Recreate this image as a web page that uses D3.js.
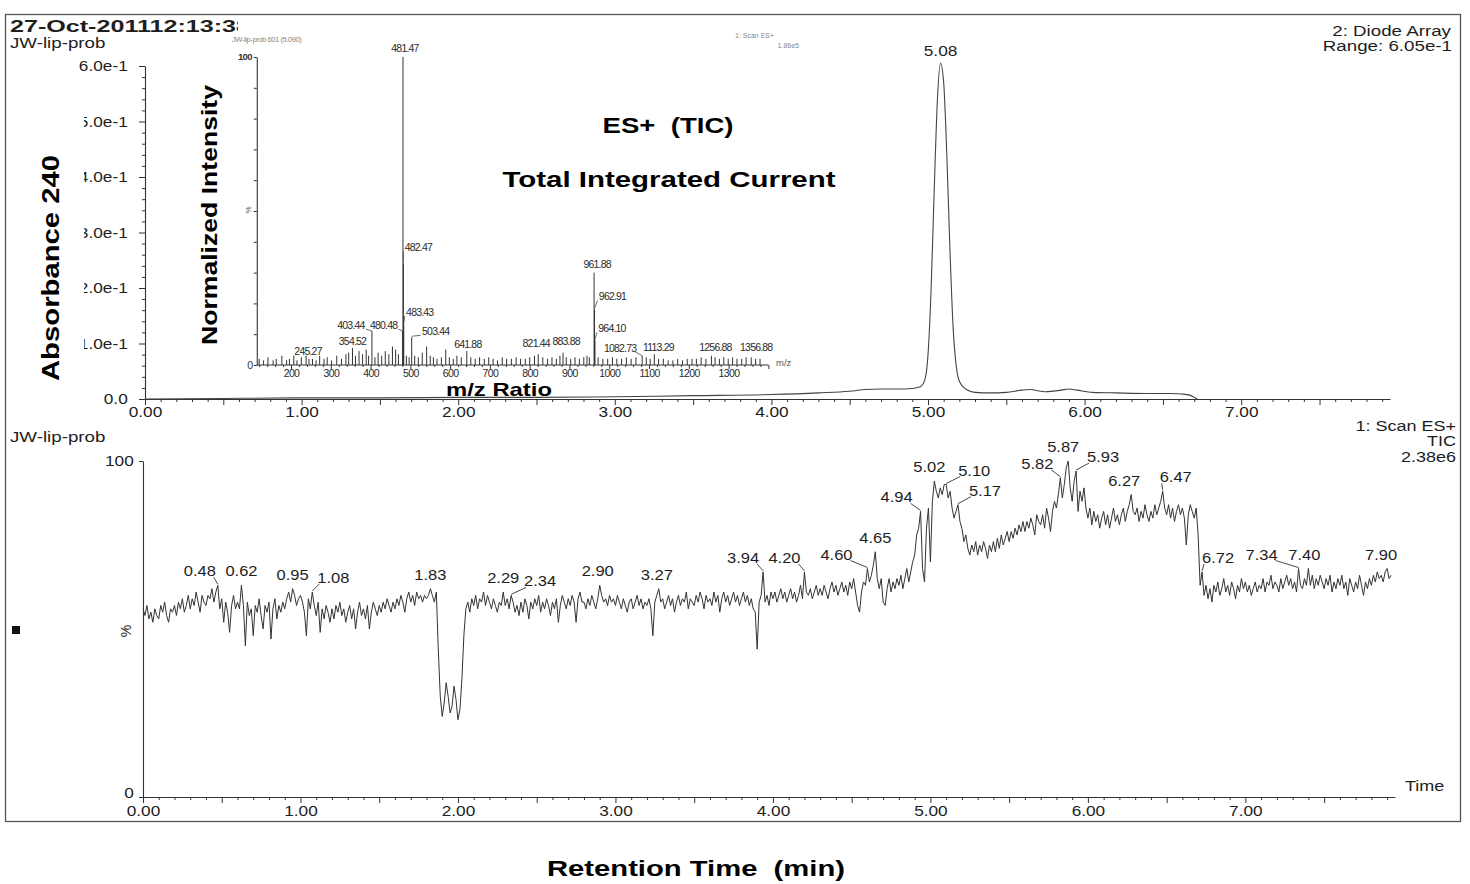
<!DOCTYPE html>
<html><head><meta charset="utf-8">
<script src="https://cdn.jsdelivr.net/npm/d3@7"></script>
<style>body{margin:0;background:#fff}svg{display:block}</style>
</head><body>
<svg id="c" width="1470" height="884"></svg>
<script>
// ================= DATA =================
// Diode array (Absorbance 240) trace: retention time (min) and absorbance
const uvTime = [0, 0.5, 1.0, 1.5, 2.0, 2.5, 3.0, 3.5, 4.0, 4.3, 4.5, 4.6, 4.7, 4.8, 4.9, 4.95, 4.98, 5.00, 5.02, 5.04, 5.06, 5.08, 5.10, 5.12, 5.14, 5.16, 5.18, 5.20, 5.24, 5.3, 5.4, 5.5, 5.6, 5.65, 5.75, 5.85, 5.9, 5.95, 6.05, 6.2, 6.4, 6.55, 6.62, 6.67, 6.70, 6.72];
const uvAbs  = [0.000, 0.001, 0.002, 0.002, 0.003, 0.003, 0.004, 0.006, 0.008, 0.011, 0.014, 0.017, 0.018, 0.018, 0.019, 0.022, 0.035, 0.080, 0.200, 0.380, 0.540, 0.605, 0.570, 0.440, 0.270, 0.130, 0.060, 0.032, 0.018, 0.012, 0.011, 0.012, 0.016, 0.017, 0.013, 0.016, 0.018, 0.016, 0.012, 0.011, 0.010, 0.010, 0.009, 0.007, 0.003, 0.000];
const uvPeakLabels = [5.08];

// TIC (ES+) trace, % of 2.38e6, one scan every 0.0125 min starting at 0
const ticStep = 0.0125;
const ticValues = [
56,54,57,53,55,52,56,54, 53,57,55,58,54,52,56,55, 57,54,58,56,59,55,57,60, 56,59,57,61,58,55,60,58,
57,60,59,62,58,61,63,56, 59,52,58,55,49,57,60,56, 58,56,63,57,45,58,54,56, 48,57,55,59,54,50,57,55,
58,47,56,59,53,57,55,58, 56,59,61,58,62,60,57,59, 60,58,55,48,59,56,61,57, 54,58,49,56,53,57,55,52,
56,53,57,55,58,54,56,52, 55,57,53,56,50,55,58,54, 56,53,57,50,55,58,56,54, 57,55,58,56,59,57,55,58,
56,59,57,60,58,55,59,61, 58,60,57,61,59,60,58,60, 59,60,62,60,58,61,44,30, 24,28,34,30,25,27,33,29,
23,26,35,48,56,58,55,59, 57,60,56,59,58,61,57,60, 58,56,59,57,55,58,57,61, 57,59,56,60,58,55,57,54,
58,55,59,57,53,58,56,59, 57,60,55,58,56,59,57,54, 58,56,59,52,57,60,58,56, 59,57,60,58,52,59,61,58,
58,56,59,57,60,58,56,59, 63,60,58,59,57,60,58,59, 57,60,58,56,59,57,55,58, 59,56,58,60,57,59,56,58,
57,59,56,48,58,60,62,58, 59,56,58,60,57,59,55,58, 60,57,59,58,61,56,59,58, 57,60,58,61,59,56,60,58,
59,57,61,58,60,55,59,61, 58,60,57,59,61,58,60,57, 59,61,58,60,57,59,56,55, 44,58,60,67,58,60,57,61,
59,61,58,60,62,59,61,58, 60,62,59,61,58,60,63,59, 67,61,60,62,59,61,63,60, 62,60,63,61,59,62,64,61,
63,60,62,64,61,63,60,64, 62,65,61,57,55,61,64,63, 68,64,66,69,73,65,62,65, 58,57,62,65,61,64,62,65,
63,66,62,65,68,64,67,70, 72,78,80,85,68,64,80,86, 70,88,94,91,89,92,90,93, 93,89,91,86,83,85,87,82,
80,76,78,74,72,75,73,76, 72,75,73,76,74,71,75,73, 76,73,77,74,78,75,77,79, 76,79,77,80,78,81,79,82,
79,82,80,83,81,78,84,82, 81,84,80,86,83,79,85,88, 86,90,95,89,93,98,100,92, 88,94,97,85,91,88,92,86,
83,86,81,85,82,84,80,83, 85,81,84,80,83,86,82,84, 81,84,86,82,85,87,90,85, 84,86,82,85,83,87,84,82,
85,83,87,84,86,88,91,86, 84,87,83,86,82,85,87,84, 86,83,75,84,87,85,83,86, 78,63,67,60,63,59,62,58,
63,61,64,60,62,65,61,63, 60,64,62,59,63,61,65,62, 64,61,63,60,62,64,61,63, 62,65,61,64,63,66,62,64,
63,61,65,62,64,66,63,65, 62,64,61,68,63,62,65,63, 68,63,66,62,65,63,66,64, 62,65,63,66,61,64,62,65,
63,66,62,64,60,65,63,61, 64,62,66,63,60,64,62,65, 63,66,64,67,65,66,64,67, 68,65,66
];
const ticPeakLabels = [0.48,0.62,0.95,1.08,1.83,2.29,2.34,2.90,3.27,3.94,4.20,4.60,4.65,4.94,5.02,5.10,5.17,5.82,5.87,5.93,6.27,6.47,6.72,7.34,7.40,7.90];

// Mass spectrum of scan 601 (5.090 min): [m/z, relative intensity %]
const msPeaks = [
[120,2],[131,1.5],[142,2.5],[155,1.5],[163,2],[177,3],[189,1.5],[196,2],[207,3],[215,1.5],[226,2.5],[238,3],
[245.27,2],[254,2],[263,1.5],[272,3],[283,2],[291,2.5],[302,1.5],[315,3],[327,2],[338,3.5],[345,4],
[354.52,5.5],[362,3],[371,4.5],[380,3.5],[389,5],[395,3],[403.44,11],[411,2.5],[419,4],[428,3],[437,4.5],
[446,3.5],[455,6],[463,5],[470,3.5],[480.48,11],[481.47,100],[482.47,33],[483.43,13],[490,3],[497,2.5],
[503.44,9],[511,3],[520,2.5],[530,4],[541,6],[550,3],[558,2.5],[567,2],[578,2.5],[589,5],[598,2.5],
[608,2],[617,3],[628,2.5],[641.88,4.5],[652,2.5],[663,2],[674,2.5],[686,2],[697,2.5],[708,2],[719,1.5],
[731,2.5],[742,2],[754,2],[766,2.5],[777,2],[789,2],[800,2.5],[812,3],[821.44,3.5],[833,2.5],[845,2],
[856,2.5],[867,2],[876,3],[883.88,4],[892,2.5],[903,2],[914,2.5],[925,2],[936,2.5],[944,3],[950,2.5],
[961.88,30],[962.91,18],[964.10,8],[972,2.5],[984,2],[996,2],[1008,2.5],[1019,2],[1031,2],[1043,2.5],
[1055,2],[1067,2.5],[1082.73,3],[1093,2.5],[1103,2],[1113.29,3.5],[1124,2],[1136,2],[1148,1.5],[1160,1.5],
[1172,2],[1184,1.5],[1196,2],[1208,2],[1219,2],[1231,2.5],[1243,2],[1256.88,3],[1266,2.5],[1277,2],
[1288,2.5],[1299,2],[1310,2.5],[1321,2],[1333,2],[1344,2.5],[1356.88,2.5],[1368,2],[1379,2]
];
const msPeakLabels = [245.27,354.52,403.44,480.48,481.47,482.47,483.43,503.44,641.88,821.44,883.88,961.88,962.91,964.10,1082.73,1113.29,1256.88,1356.88];

// Tick labels
const rtTicks = [0,1,2,3,4,5,6,7];
const absTicks = [0,0.1,0.2,0.3,0.4,0.5,0.6];
const absTickLabels = ["0.0","1.0e-1","2.0e-1","3.0e-1","4.0e-1","5.0e-1","6.0e-1"];
const mzTicks = [200,300,400,500,600,700,800,900,1000,1100,1200,1300];
const ticTicks = [0,100];

// ================= DRAWING =================
const svg = d3.select("#c");
const F = '"Liberation Sans", Arial, Helvetica, sans-serif';
const INK = "#1e1e1e";

function txt(g, x, y, s, o = {}) {
  const sx = o.sx ?? 1.2;
  const t = g.append("text")
    .attr("transform", `translate(${x},${y})` + (o.rot ? ` rotate(${o.rot})` : "") + (sx !== 1 ? ` scale(${sx},1)` : ""))
    .attr("font-family", F).attr("font-size", o.size ?? 15)
    .attr("font-weight", o.weight ?? "normal")
    .attr("text-anchor", o.anchor ?? "start")
    .attr("fill", o.fill ?? INK)
    .style("white-space", "pre")
    .text(s);
  if (o.len) t.attr("textLength", o.len).attr("lengthAdjust", "spacingAndGlyphs");
  if (o.ls != null) t.attr("letter-spacing", o.ls);
  return t;
}

// outer frame
svg.append("rect").attr("x", 5.5).attr("y", 14.5).attr("width", 1455).attr("height", 807)
  .attr("fill", "none").attr("stroke", "#555").attr("stroke-width", 1.3);

// header
svg.append("clipPath").attr("id", "hclip").append("rect").attr("x", 0).attr("y", 0).attr("width", 238).attr("height", 60);
txt(svg.append("g").attr("clip-path", "url(#hclip)"), 10, 32, "27-Oct-201112:13:38", {size: 17, weight: "bold", sx: 1, len: 240});
txt(svg, 10, 48, "JW-lip-prob", {size: 15, sx: 1.25});
txt(svg, 1451, 36, "2: Diode Array", {size: 15, anchor: "end", sx: 1.25});
txt(svg, 1452, 51, "Range: 6.05e-1", {size: 15, anchor: "end", sx: 1.25});

// ---------- top chart: diode array ----------
const xTop = d3.scaleLinear().domain([0, 7.95]).range([145, 1390]);
const yTop = d3.scaleLinear().domain([0, 0.6]).range([399, 66]);

function styleAxis(g, size) {
  g.attr("font-family", F).attr("font-size", size);
  g.selectAll("path.domain").attr("stroke", "#333").attr("stroke-width", 1.1);
  g.selectAll(".tick line").attr("stroke", "#333");
  g.selectAll(".tick text").attr("fill", INK);
}

const tenths = d3.range(0, 80).map(i => i / 10);
const gxTop = svg.append("g").attr("transform", `translate(0,${yTop(0)})`)
  .call(d3.axisBottom(xTop).tickValues(tenths).tickSize(3).tickSizeOuter(0).tickPadding(4)
    .tickFormat(d => rtTicks.includes(d) ? d.toFixed(2) : ""));
styleAxis(gxTop, 15);
gxTop.selectAll(".tick line").attr("y2", d => Math.abs(d * 2 - Math.round(d * 2)) < 1e-6 ? 6 : 3);
gxTop.selectAll(".tick text").attr("transform", "scale(1.15,1)");

const fiftieths = d3.range(0, 31).map(i => i / 50);
const gyTop = svg.append("g").attr("transform", `translate(${xTop(0)},0)`)
  .call(d3.axisLeft(yTop).tickValues(fiftieths).tickSize(3).tickSizeOuter(0).tickPadding(4)
    .tickFormat(d => { const k = absTicks.findIndex(v => Math.abs(v - d) < 1e-9); return k >= 0 ? absTickLabels[k] : ""; }));
styleAxis(gyTop, 15);
gyTop.selectAll(".tick line").attr("x2", d => absTicks.some(v => Math.abs(v - d) < 1e-9) ? -6 : -3);
gyTop.selectAll(".tick text").attr("x", -15).attr("transform", "scale(1.15,1)");

const uvLine = d3.line().x((d, i) => xTop(uvTime[i])).y(d => yTop(d)).curve(d3.curveMonotoneX);
svg.append("path").datum(uvAbs).attr("d", uvLine).attr("fill", "none").attr("stroke", "#444").attr("stroke-width", 1.1);
uvPeakLabels.forEach(t => {
  const i = uvTime.findIndex(v => Math.abs(v - t) < 1e-6);
  txt(svg, xTop(t), yTop(uvAbs[i]) - 7, t.toFixed(2), {size: 15, anchor: "middle", sx: 1.15});
});

// white box behind the Absorbance label (covers leading digits of tick labels)
svg.append("rect").attr("x", 16).attr("y", 85).attr("width", 68).attr("height", 300).attr("fill", "#fff");
txt(svg, 59, 268, "Absorbance 240", {size: 23, weight: "bold", rot: -90, anchor: "middle", sx: 1, len: 226, fill: "#000"});

// ---------- inset: mass spectrum ----------
const xMs = d3.scaleLinear().domain([200, 1300]).range([291, 728.6]);
const yMs = d3.scaleLinear().domain([0, 100]).range([365, 57]);
const ins = svg.append("g");
const gyMs = ins.append("g").attr("transform", `translate(${xMs(114)},0)`)
  .call(d3.axisLeft(yMs).tickValues(d3.range(0, 101, 10)).tickSize(3).tickSizeOuter(0).tickFormat(""));
styleAxis(gyMs, 9);
const gxMs = ins.append("g").attr("transform", `translate(0,${yMs(0)})`)
  .call(d3.axisBottom(xMs).tickValues(d3.range(120, 1401, 20)).tickSize(2).tickSizeOuter(0).tickPadding(3)
    .tickFormat(d => mzTicks.includes(d) ? d : ""));
gxMs.select("path.domain").attr("d", `M${xMs(114)},0H${xMs(1400)}`);
styleAxis(gxMs, 10.5);
gxMs.selectAll(".tick line").attr("y2", d => d % 100 === 0 ? 4 : 2);
gxMs.selectAll(".tick text").attr("letter-spacing", -0.6).attr("fill", "#2a2a2a");
txt(ins, 252, 60, "100", {size: 9.5, anchor: "end", sx: 1, ls: -0.6, weight: "bold", fill: "#333"});
txt(ins, 253, 369, "0", {size: 10.5, anchor: "end", sx: 1, fill: "#333"});
txt(ins, 251, 210, "%", {size: 8, anchor: "middle", sx: 1, rot: -90, fill: "#555"});
txt(ins, 776, 366, "m/z", {size: 9.5, sx: 1, fill: "#555"});
txt(ins, 232, 42, "JW-lip-prob 601 (5.090)", {size: 7.5, sx: 1, fill: "#888", ls: -0.4});
txt(ins, 735, 38, "1: Scan ES+", {size: 7, sx: 1, fill: "#888"});
txt(ins, 799, 48, "1.86e5", {size: 7, sx: 1, anchor: "end", fill: "#888"});

ins.selectAll("line.stick").data(msPeaks).join("line").attr("class", "stick")
  .attr("x1", d => xMs(d[0])).attr("x2", d => xMs(d[0]))
  .attr("y1", yMs(0)).attr("y2", d => yMs(d[1]))
  .attr("stroke", "#333").attr("stroke-width", 1);

// label placement (offset of label centre from the stick top), px
const msLabelLayout = {
  245.27: [-1, -8], 354.52: [0, -7], 403.44: [-21, -6], 480.48: [-19, -6], 481.47: [2, -9],
  482.47: [15, -16], 483.43: [16, -13], 503.44: [24, -6], 641.88: [1, -7], 821.44: [-2, -11],
  883.88: [3, -11], 961.88: [3, -8], 962.91: [18, -13], 964.10: [17, -12], 1082.73: [-22, -8],
  1113.29: [4, -7], 1256.88: [4, -9], 1356.88: [5, -10]
};
msPeakLabels.forEach(mz => {
  const p = msPeaks.find(d => d[0] === mz);
  const px = xMs(p[0]), py = yMs(p[1]);
  const [dx, dy] = msLabelLayout[mz];
  const lx = px + dx, ly = py + dy;
  if (Math.abs(dx) >= 10) {
    const ex = dx > 0 ? lx - 15 : lx + 15;
    ins.append("line").attr("x1", ex).attr("y1", ly + 4).attr("x2", px).attr("y2", py + (dx > 0 ? -1 : 0))
      .attr("stroke", "#444").attr("stroke-width", 0.8);
  }
  txt(ins, lx, ly + 3.8, mz.toFixed(2), {size: 10.5, anchor: "middle", sx: 1, ls: -0.8, fill: "#2a2a2a"});
});

txt(svg, 217, 215, "Normalized Intensity", {size: 22, weight: "bold", rot: -90, anchor: "middle", sx: 1, len: 260, fill: "#000"});
txt(svg, 668, 133, "ES+  (TIC)", {size: 22, weight: "bold", anchor: "middle", sx: 1, len: 131, fill: "#000"});
txt(svg, 669, 187, "Total Integrated Current", {size: 22, weight: "bold", anchor: "middle", sx: 1, len: 333, fill: "#000"});
txt(svg, 499, 396, "m/z Ratio", {size: 19, weight: "bold", anchor: "middle", sx: 1, len: 106, fill: "#000"});

// ---------- bottom chart: TIC ----------
const xBot = d3.scaleLinear().domain([0, 7.95]).range([143, 1395]);
const yBot = d3.scaleLinear().domain([0, 100]).range([797, 461]);

txt(svg, 10, 442, "JW-lip-prob", {size: 15, sx: 1.25});
txt(svg, 1456, 431, "1: Scan ES+", {size: 15, anchor: "end", sx: 1.2});
txt(svg, 1456, 446, "TIC", {size: 15, anchor: "end", sx: 1.2});
txt(svg, 1456, 462, "2.38e6", {size: 15, anchor: "end", sx: 1.2});

const gxBot = svg.append("g").attr("transform", `translate(0,${yBot(0)})`)
  .call(d3.axisBottom(xBot).tickValues(tenths).tickSize(3).tickSizeOuter(0).tickPadding(5)
    .tickFormat(d => rtTicks.includes(d) ? d.toFixed(2) : ""));
styleAxis(gxBot, 15);
gxBot.selectAll(".tick line").attr("y2", d => Math.abs(d * 2 - Math.round(d * 2)) < 1e-6 ? 6 : 3);
gxBot.selectAll(".tick text").attr("transform", "scale(1.15,1)");
txt(svg, 1405, 791, "Time", {size: 15, sx: 1.2});

const gyBot = svg.append("g").attr("transform", `translate(${xBot(0)},0)`)
  .call(d3.axisLeft(yBot).tickValues(ticTicks).tickSize(4).tickSizeOuter(0).tickPadding(4).tickFormat(d => d));
styleAxis(gyBot, 15);
gyBot.selectAll(".tick text").attr("transform", "scale(1.15,1)");
gyBot.selectAll(".tick text").filter(d => d === 0).attr("y", -4);
txt(svg, 131, 631, "%", {size: 14, rot: -90, anchor: "middle", sx: 1});
svg.append("rect").attr("x", 12).attr("y", 626).attr("width", 8).attr("height", 8).attr("fill", "#111");

const ticLine = d3.line().x((d, i) => xBot(i * ticStep)).y(d => yBot(d));
svg.append("path").datum(ticValues).attr("d", ticLine).attr("fill", "none")
  .attr("stroke", "#333").attr("stroke-width", 1).attr("stroke-linejoin", "round");

// label placement (horizontal offset of label from its peak), px
const ticLabelDx = {
  0.48: -18, 0.62: 0, 0.95: 0, 1.08: 21, 1.83: 0, 2.29: 0, 2.34: 29, 2.90: -2, 3.27: -2,
  3.94: -20, 4.20: -20, 4.60: -31, 4.65: 0, 4.94: -24, 5.02: -5, 5.10: 28, 5.17: 27,
  5.82: -23, 5.87: -5, 5.93: 27, 6.27: -7, 6.47: 13, 6.72: 16, 7.34: -37, 7.40: -4, 7.90: -6
};
ticPeakLabels.forEach(t => {
  const i = Math.round(t / ticStep);
  const px = xBot(i * ticStep), py = yBot(ticValues[i]);
  const dx = ticLabelDx[t];
  const lx = px + dx, by = py - 9;
  if (Math.abs(dx) >= 10) {
    const ex = dx > 0 ? lx - 14 : lx + 14;
    svg.append("line").attr("x1", ex).attr("y1", by + 1).attr("x2", px).attr("y2", py - 1)
      .attr("stroke", "#333").attr("stroke-width", 0.9);
  }
  txt(svg, lx, by, t.toFixed(2), {size: 15, anchor: "middle", sx: 1.1});
});

txt(svg, 696, 876, "Retention Time  (min)", {size: 22, weight: "bold", anchor: "middle", sx: 1, len: 298, fill: "#000"});
</script>
</body></html>
